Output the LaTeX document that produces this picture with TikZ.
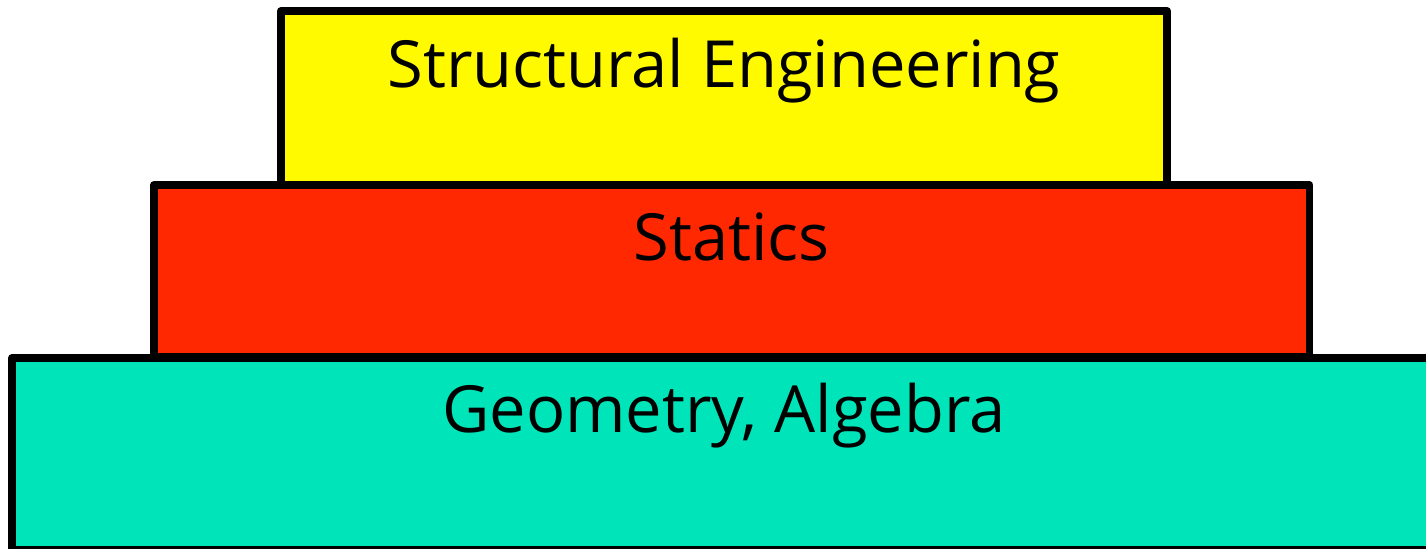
\documentclass[tikz,border=0pt]{standalone}
\usepackage{fontspec}
\setmainfont{Open Sans}
\usepackage{xcolor}
\usepackage{tikz}
\definecolor{layY}{RGB}{255,250,0}
\definecolor{layR}{RGB}{255,40,0}
\definecolor{layT}{RGB}{0,228,186}

\begin{document}
\begin{tikzpicture}[
  layer/.style={draw=black, line width=4.5pt, line join=round, rectangle,
    inner sep=0pt, outer sep=0pt},
  lbl/.style={anchor=base, font=\fontsize{37}{44}\selectfont}]
\clip (0,0) rectangle (28.52,-10.98);
% Bottom: the widest block, runs out on the right
\node[layer, fill=layT, minimum width=28.48cm, minimum height=3.84cm] (base) at (14.48,-9.08) {};
% Middle block
\node[layer, fill=layR, minimum width=23.11cm, minimum height=3.44cm] (mid) at (14.635,-5.42) {};
% Top block
\node[layer, fill=layY, minimum width=17.72cm, minimum height=3.48cm] (top) at (14.48,-1.96) {};
\node[lbl] (toplbl) at ([yshift=-1.54cm]top.north) {Structural Engineering};
\node[lbl] (midlbl) at ([yshift=-1.52cm]mid.north) {Statics};
\node[lbl] (baselbl) at ([yshift=-1.50cm]base.north) {Geometry, Algebra};
\end{tikzpicture}
\end{document}
